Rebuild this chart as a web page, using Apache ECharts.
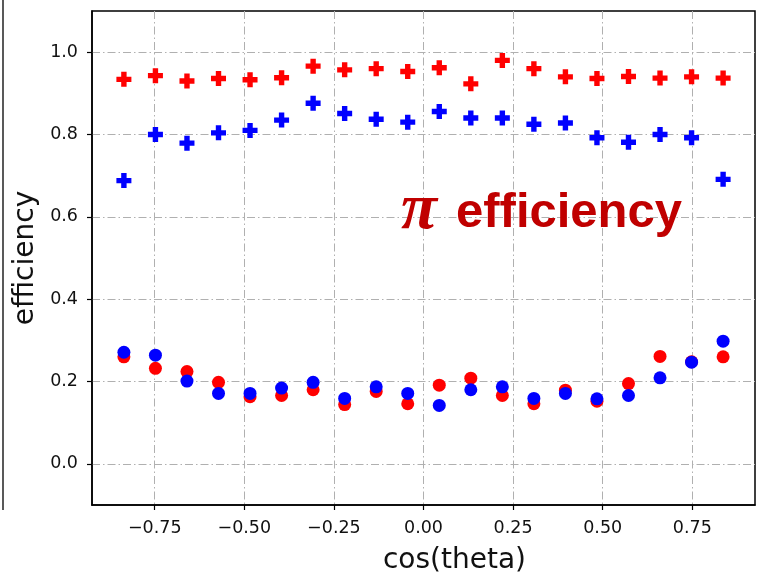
<!DOCTYPE html>
<html>
<head>
<meta charset="utf-8">
<script src="https://cdn.jsdelivr.net/npm/echarts@6/dist/echarts.min.js"></script>
<style>html,body{margin:0;padding:0;background:#fff;}#c{width:759px;height:580px;}</style>
</head>
<body>
<div id="c"></div>
<script>
var cosTheta = [-0.836,-0.748,-0.660,-0.572,-0.484,-0.396,-0.308,-0.220,-0.132,-0.044,0.044,0.132,0.220,0.308,0.396,0.484,0.572,0.660,0.748,0.836];
var redPlus  = [0.934,0.943,0.930,0.936,0.933,0.938,0.966,0.957,0.960,0.953,0.962,0.923,0.980,0.960,0.940,0.936,0.941,0.937,0.940,0.937];
var bluePlus = [0.688,0.800,0.779,0.804,0.810,0.835,0.876,0.851,0.837,0.830,0.856,0.840,0.840,0.825,0.828,0.792,0.781,0.800,0.792,0.691];
var redDot   = [0.260,0.232,0.224,0.198,0.163,0.166,0.180,0.144,0.176,0.146,0.191,0.208,0.166,0.146,0.179,0.152,0.195,0.261,0.248,0.260];
var blueDot  = [0.271,0.264,0.201,0.171,0.171,0.184,0.198,0.159,0.187,0.171,0.142,0.180,0.187,0.159,0.171,0.158,0.166,0.209,0.247,0.298];
var xTicks = [-0.75,-0.5,-0.25,0,0.25,0.5,0.75];
var yTicks = [0,0.2,0.4,0.6,0.8,1.0];
var xName = 'cos(theta)';
var yName = 'efficiency';
var annotation = ['π', 'efficiency'];

function pairs(xs, ys){ return xs.map(function(x,i){ return [x, ys[i]]; }); }
var PLUS = 'path://M32,0H68V32H100V68H68V100H32V68H0V32H32Z';
var gridLine = {show:true, lineStyle:{color:'#b0b0b0', width:1, type:[8,3,1.5,3]}};
var font = 'DejaVu Sans';

var chart = echarts.init(document.getElementById('c'), null, {renderer:'canvas'});
chart.setOption({
  animation:false,
  backgroundColor:'#fff',
  grid:{left:92, right:4, top:11, bottom:72, show:true, borderColor:'#000', borderWidth:1.5},
  xAxis:{
    type:'value', min:-0.925, max:0.925,
    name:xName, nameLocation:'middle', nameGap:42,
    nameTextStyle:{fontFamily:font, fontSize:28, color:'#111', padding:[0,0,0,62]},
    axisLine:{show:true, onZero:false, lineStyle:{color:'#000', width:1.5}},
    axisTick:{show:true, inside:false, length:5, lineStyle:{color:'#000', width:1.2}, customValues:xTicks},
    axisLabel:{fontFamily:font, fontSize:17.5, color:'#111', margin:14, customValues:xTicks,
      formatter:function(v){ var s=Math.abs(v).toFixed(2); return (v<0?'\u2212':'')+s; }},
    splitLine:gridLine
  },
  yAxis:{
    type:'value', min:-0.1, max:1.1,
    name:yName, nameLocation:'middle', nameGap:48, nameRotate:90,
    nameTextStyle:{fontFamily:font, fontSize:28, color:'#111'},
    axisLine:{show:true, onZero:false, lineStyle:{color:'#000', width:1.5}},
    axisTick:{show:true, inside:false, length:5, lineStyle:{color:'#000', width:1.2}, customValues:yTicks},
    axisLabel:{fontFamily:font, fontSize:17.5, color:'#111', margin:14, customValues:yTicks,
      formatter:function(v){ return v.toFixed(1); }},
    splitLine:gridLine
  },
  series:[
    {type:'scatter', data:pairs(cosTheta, redDot), symbol:'circle', symbolSize:13, itemStyle:{color:'#ff0000', opacity:1}},
    {type:'scatter', data:pairs(cosTheta, blueDot), symbol:'circle', symbolSize:13, itemStyle:{color:'#0000ff', opacity:1}},
    {type:'scatter', data:pairs(cosTheta, redPlus), symbol:PLUS, symbolSize:15, itemStyle:{color:'#ff0000', opacity:1}},
    {type:'scatter', data:pairs(cosTheta, bluePlus), symbol:PLUS, symbolSize:15, itemStyle:{color:'#0000ff', opacity:1}}
  ],
  graphic:[
    {type:'line', shape:{x1:3, y1:0, x2:3, y2:510}, style:{stroke:'#222', lineWidth:1.5}},
    {type:'text', left:401, top:178, z:100, style:{text:annotation[0], font:'italic bold 66px "Liberation Serif"', fill:'#c00000'}},
    {type:'text', left:456, top:189, z:100, style:{text:annotation[1], font:'bold 49px "Liberation Sans"', fill:'#c00000'}}
  ]
});
</script>
</body>
</html>
